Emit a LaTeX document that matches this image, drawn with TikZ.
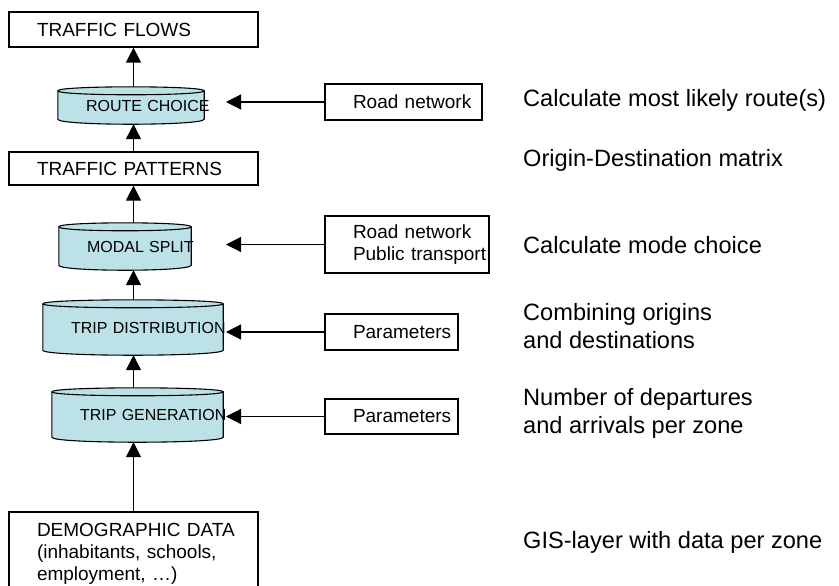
\documentclass[tikz,border=0pt]{standalone}
\usepackage{fontspec}
\setmainfont{Liberation Sans}
\usetikzlibrary{arrows.meta,calc,backgrounds}
\definecolor{drumblue}{RGB}{188,226,231}
\hfuzz=300pt
\hbadness=10000

\newcommand{\drum}[1]{%
  \filldraw[fill=drumblue, line width=1.1pt]
    ($(#1.north west)+(0,4)$) .. controls +(0,-5.3) and +(0,-5.3) .. ($(#1.north east)+(0,4)$)
    -- ($(#1.south east)+(0,-5)$) .. controls +(0,6.7) and +(0,6.7) .. ($(#1.south west)+(0,-5)$)
    -- cycle;
  \draw[line width=1.1pt] ($(#1.north west)+(0,4)$) .. controls +(0,5.3) and +(0,5.3) .. ($(#1.north east)+(0,4)$);
}

\begin{document}
\begin{tikzpicture}[x=1pt, y=-1pt,
		>={Triangle[width=15pt,length=15pt]},
		box/.style={draw, line width=1.2pt, inner xsep=28pt, inner ysep=0pt, text width=#1,
			align=left, font=\fontsize{19}{21.7}\selectfont},
		drumtext/.style={inner xsep=28pt, inner ysep=0pt, text width=#1, align=left,
			font=\fontsize{16}{19}\selectfont},
		note/.style={anchor=west, inner sep=0pt, align=left, font=\fontsize{23.6}{28}\selectfont},
		link/.style={->, line width=1.2pt}
		]
		\useasboundingbox (0,0) rectangle (839,586);

		\node[box=193pt, minimum height=35pt](TF) at (133.5,29.5){\mbox{TRAFFIC FLOWS}};
		\node[drumtext=90pt, minimum height=37pt](RC) at (131,105.5){\mbox{ROUTE CHOICE}};
		\node[box=193pt, minimum height=33pt](TP) at (133.5,168.5){\mbox{TRAFFIC PATTERNS}};
		\node[drumtext=76pt, minimum height=47pt](MS) at (125,246.5){\mbox{MODAL SPLIT}};
		\node[drumtext=124pt, minimum height=55pt](TD) at (133,327.5){\mbox{TRIP DISTRIBUTION}};
		\node[drumtext=115pt, minimum height=54pt](TG) at (137.5,415){\mbox{TRIP GENERATION}};
		\node[box=193pt, minimum height=84pt](DD) at (133.5,554)
			{\mbox{DEMOGRAPHIC DATA}\\\mbox{(inhabitants, schools,}\\\mbox{employment, …)}};

		\begin{pgfonlayer}{background}
			\drum{RC}
			\drum{MS}
			\drum{TD}
			\drum{TG}
		\end{pgfonlayer}

		\node[box=101pt, minimum height=36pt](RN) at (403.5,102){\mbox{Road network}};
		\node[box=108pt, minimum height=57pt](PT) at (407,244.5){\mbox{Road network}\\\mbox{Public transport}};
		\node[box=77pt, minimum height=36pt](P1) at (391.5,332){\mbox{Parameters}};
		\node[box=77pt, minimum height=35pt](P2) at (391.5,416.5){\mbox{Parameters}};
		\coordinate (AX) at (226,0);

		\draw[link] (RC.north -| TF.south) -- (TF.south);
		\draw[link] (TP.north) -- (RC.south -| TP.north);
		\draw[link] (MS.north -| TP.south) -- (TP.south);
		\draw[link] (TD.north -| TP.south) -- (MS.south -| TP.south);
		\draw[link] (TG.north -| TP.south) -- (TD.south -| TP.south);
		\draw[link] (DD.north) -- (TG.south -| DD.north);

		\draw[link] (RN.west) -- (RN.west -| AX);
		\draw[link] (PT.west) -- (PT.west -| AX);
		\draw[link] (P1.west) -- (P1.west -| AX);
		\draw[link] (P2.west) -- (P2.west -| AX);

		\node[note] (N1) at (523,100.5){Calculate most likely route(s)};
		\node[note] (N2) at (523,160.4){Origin-Destination matrix};
		\node[note] (N3) at (523,244.6){Calculate mode choice};
		\node[note] (N4) at (523,325.6){Combining origins\\and destinations};
		\node[note] (N5) at (523,413){Number of departures\\and arrivals per zone};
		\node[note] (N6) at (523,542){GIS-layer with data per zone};
	\end{tikzpicture}
\end{document}
